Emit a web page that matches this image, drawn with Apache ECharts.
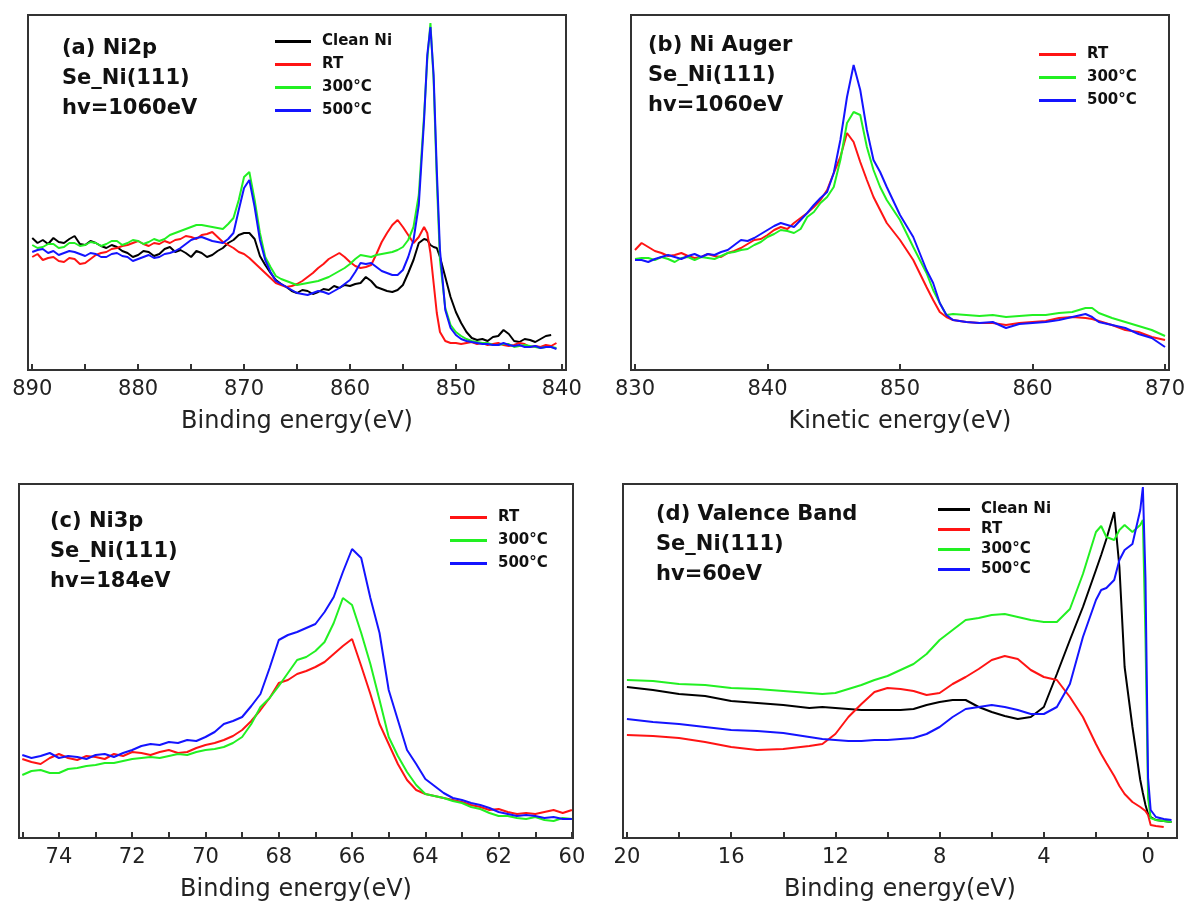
<!DOCTYPE html>
<html>
<head>
<meta charset="utf-8">
<script src="https://cdn.jsdelivr.net/npm/echarts@6/dist/echarts.min.js"></script>
<style>
  html, body { margin: 0; padding: 0; background: #fff; }
  #main { width: 1189px; height: 905px; }
</style>
</head>
<body>
<div id="main"></div>
<script>
// (a) Ni2p, hv=1060eV  (intensity in arb. units)
var eA = [890,889.5,889,888.5,888,887.5,887,886.5,886,885.5,885,884.5,884,883.5,883,882.5,882,881.5,881,880.5,880,
  879.5,879,878.5,878,877.5,877,876.5,876,875.5,875,874.5,874,873.5,873,872.5,872,871.5,871,870.5,870,
  869.5,869,868.5,868,867.5,867,866.5,866,865.5,865,864.5,864,863.5,863,862.5,862,861.5,861,860.5,860,
  859.5,859,858.5,858,857.5,857,856.5,856,855.5,855,854.5,854,
  853.5,853,852.7,852.4,852.1,851.8,851.5,
  851,850.5,850,849.5,849,848.5,848,847.5,847,846.5,846,845.5,845,844.5,844,843.5,843,842.5,842,841.5,841,840.5];
var aClean = [132,127,130,126,132,128,127,131,134,126,125,129,127,124,122,125,123,119,117,113,115,
  119,118,114,116,121,123,118,120,117,113,119,117,113,115,119,122,127,130,135,137,
  137,131,114,105,97,90,86,83,79,77,80,79,76,78,81,80,84,82,85,84,
  86,87,93,89,83,81,79,78,80,85,97,110,
  127,131,130,125,123,122,113,
  93,73,58,47,38,32,30,31,29,33,34,40,36,29,28,31,30,28,31,34,35,null];
var aRT = [113,116,110,112,113,109,108,112,111,106,107,111,115,117,118,121,122,124,125,127,129,
  126,124,127,126,129,127,130,131,134,133,131,135,136,138,133,128,125,122,118,116,
  112,107,102,97,92,87,85,83,84,86,89,93,97,102,106,111,114,117,113,108,
  104,102,103,105,116,128,137,145,150,143,135,127,
  133,143,137,117,87,57,38,
  29,27,27,26,27,28,26,27,25,26,27,25,24,25,27,26,23,24,23,25,24,27];
var a300 = [125,122,123,126,126,122,123,127,127,124,125,128,127,124,126,129,129,125,127,130,129,
  126,128,131,129,131,135,137,139,141,143,145,145,144,143,142,141,146,152,170,193,
  198,170,137,113,103,94,91,89,87,85,86,87,88,89,91,93,96,99,102,106,
  111,115,114,113,115,116,117,118,120,123,130,143,
  175,255,310,347,290,190,110,
  62,45,38,34,31,29,28,27,27,25,25,26,26,23,24,25,24,23,22,23,23,22];
var a500 = [118,120,121,117,119,115,117,119,118,116,114,117,116,113,113,116,117,114,113,109,111,
  113,115,112,113,116,117,119,122,126,130,132,133,131,129,128,127,131,137,160,182,
  190,163,130,110,98,89,86,83,80,77,76,75,77,79,78,76,79,82,86,90,
  98,107,106,107,103,99,97,95,95,100,113,130,
  165,250,315,343,295,200,120,
  60,42,35,31,29,28,27,26,26,25,25,27,25,24,25,23,23,24,22,23,23,21];
var ticksA = [840,845,850,855,860,865,870,875,880,885,890];
var labelsA = [840,850,860,870,880,890];

// (b) Ni Auger
var eB = [830,830.5,831,831.5,832,832.5,833,833.5,834,834.5,835,835.5,836,836.5,837,837.5,838,838.5,839,839.5,
  840,840.5,841,841.5,842,842.5,843,843.5,844,844.5,845,845.5,846,846.5,847,847.5,848,848.5,849,850,851,852,852.5,853,853.5,
  854,855,856,857,858,859,860,861,862,863,864,864.5,865,866,867,868,869,870];
var bRT = [120,127,123,119,117,114,115,117,114,112,113,116,114,113,117,119,122,126,130,131,
  135,140,143,141,147,152,157,163,170,180,197,213,237,228,208,190,173,160,147,130,110,83,70,58,53,
  50,48,47,47,45,47,48,49,52,53,52,51,49,45,40,38,33,30];
var b300 = [111,112,112,110,113,111,108,112,113,110,113,112,111,114,117,118,120,121,125,128,
  133,136,140,139,137,141,153,158,167,173,183,210,247,258,255,223,200,183,170,150,123,97,80,67,55,
  56,55,54,55,53,54,55,55,57,58,62,62,57,52,48,44,40,34];
var b500 = [110,110,108,111,113,115,113,111,114,116,113,116,115,118,120,125,130,129,132,136,
  140,144,147,145,143,150,157,165,172,178,197,230,273,305,280,240,210,198,183,155,133,100,87,67,55,
  50,48,47,48,42,46,47,48,50,53,56,53,48,45,42,36,32,23];
var ticksB = [830,840,850,860,870];
var labelsB = [830,840,850,860,870];

// (c) Ni3p, hv=184eV
var eC = [75,74.75,74.5,74.25,74,73.75,73.5,73.25,73,72.75,72.5,72.25,72,71.75,71.5,71.25,71,70.75,70.5,70.25,70,
  69.75,69.5,69.25,69,68.75,68.5,
  68.25,68,67.75,67.5,67.25,67,66.75,66.5,66.25,66,65.75,65.5,65.25,65,64.75,64.5,64.25,64,
  63.75,63.5,63.25,63,62.75,62.5,62.25,62,61.75,61.5,61.25,61,60.75,60.5,60.25,60];
var cRT = [79,76,74,80,84,80,78,82,81,79,84,82,86,85,83,86,88,85,86,90,93,95,98,102,108,117,128,
  140,155,158,164,167,171,176,184,192,199,172,144,114,94,74,58,48,44,
  42,40,38,36,33,31,28,29,26,24,25,24,26,28,25,28];
var c300 = [63,67,68,65,65,69,70,72,73,75,75,77,79,80,81,80,82,84,83,86,88,89,91,95,101,114,131,
  140,152,165,178,181,187,196,215,240,233,205,174,138,101,82,66,53,44,
  42,40,37,35,31,29,25,22,22,20,19,21,18,17,20,19];
var c500 = [83,80,82,85,80,82,81,79,83,84,81,85,88,92,94,93,96,95,98,97,101,106,114,117,121,132,144,
  170,198,203,206,210,214,226,241,266,289,280,240,205,148,118,88,74,59,
  52,45,40,38,35,33,30,26,24,22,23,22,20,21,19,19];
var ticksC = [60,61,62,63,64,65,66,67,68,69,70,71,72,73,74,75];
var labelsC = [60,62,64,66,68,70,72,74];

// (d) Valence band, hv=60eV
var eD = [20,19,18,17,16,15,14,13,12.5,12,11.5,11,10.5,10,9.5,9,8.5,8,7.5,7,6.5,6,5.5,5,
  4.5,4,3.5,3,2.5,2,1.8,1.6,1.3,1.1,0.9,0.6,0.3,0.2,0.1,0,-0.1,-0.3,-0.6,-0.9];
var dClean = [151,148,144,142,137,135,133,130,131,130,129,128,128,128,128,129,133,136,138,138,131,126,122,119,
  121,131,164,198,231,268,283,299,326,271,171,111,58,45,33,24,21,18,17,16];
var dRT = [103,102,100,96,91,88,89,92,94,104,121,134,146,150,149,147,143,145,154,161,169,178,182,179,
  168,161,158,141,121,94,84,75,62,52,44,36,31,29,27,23,13,12,11,null];
var d300 = [158,157,154,153,150,149,147,145,144,145,149,153,158,162,168,174,184,198,208,218,220,223,224,221,
  218,216,216,229,264,306,312,301,298,308,313,306,313,318,200,40,20,18,17,16];
var d500 = [119,116,114,111,108,107,105,101,99,98,97,97,98,98,99,100,104,111,121,129,131,133,131,128,
  124,124,131,154,201,238,248,250,258,278,288,294,328,351,260,60,28,21,19,18];
var ticksD = [0,2,4,6,8,10,12,14,16,18,20];
var labelsD = [0,4,8,12,16,20];

var FONT = 'DejaVu Sans';
var COL = { 'Clean Ni': '#000000', 'RT': '#ff1414', '300°C': '#22f022', '500°C': '#1414ff' };

function pairs(xs, ys) {
  return xs.map(function (x, i) { return [x, ys[i]]; });
}

function xAx(i, min, max, inverse, ticks, labels, name) {
  return {
    type: 'value', gridIndex: i, min: min, max: max, inverse: inverse,
    name: name, nameLocation: 'middle', nameGap: 40,
    nameTextStyle: { fontFamily: FONT, fontSize: 24, color: '#222' },
    axisLine: { show: true, onZero: false, lineStyle: { color: '#333', width: 2 } },
    axisTick: { show: true, inside: true, length: 6, customValues: ticks, lineStyle: { color: '#333', width: 2 } },
    axisLabel: { customValues: labels, fontFamily: FONT, fontSize: 21, color: '#222', margin: 9 },
    splitLine: { show: false }
  };
}

function line(name, i, xs, ys) {
  return {
    type: 'line', name: name, xAxisIndex: i, yAxisIndex: i,
    data: pairs(xs, ys), showSymbol: false, symbol: 'none',
    lineStyle: { width: 2, color: COL[name] }, itemStyle: { color: COL[name] },
    animation: false
  };
}

function legend(left, top, w, gap, size, names) {
  return {
    orient: 'vertical', left: left, top: top, padding: 0,
    itemWidth: w, itemHeight: 3, itemGap: gap, icon: 'rect',
    selectedMode: false, data: names,
    textStyle: { fontFamily: FONT, fontWeight: 'bold', fontSize: size, color: '#111', padding: [0, 0, 0, 6] }
  };
}

function label(text, left, top) {
  return {
    text: text, left: left, top: top, padding: 0,
    textStyle: { fontFamily: FONT, fontWeight: 'bold', fontSize: 21, lineHeight: 30, color: '#111' }
  };
}

var gridStyle = { show: true, borderColor: '#333', borderWidth: 2, backgroundColor: '#fff' };

var myChart = echarts.init(document.getElementById('main'), null, { renderer: 'canvas' });
var option = {
  backgroundColor: '#fff',
  animation: false,
  title: [
    label('(a) Ni2p\nSe_Ni(111)\nhv=1060eV', 62, 34),
    label('(b) Ni Auger\nSe_Ni(111)\nhv=1060eV', 648, 31),
    label('(c) Ni3p\nSe_Ni(111)\nhv=184eV', 50, 507),
    label('(d) Valence Band\nSe_Ni(111)\nhv=60eV', 656, 500)
  ],
  legend: [
    legend(275, 34, 36, 8, 15, ['Clean Ni', 'RT', '300°C', '500°C']),
    legend(1039, 47, 37, 8, 15, ['RT', '300°C', '500°C']),
    legend(450, 510, 37, 8, 15, ['RT', '300°C', '500°C']),
    legend(938, 502, 32, 5, 15, ['Clean Ni', 'RT', '300°C', '500°C'])
  ],
  grid: [
    Object.assign({ left: 28, top: 15, width: 538, height: 355 }, gridStyle),
    Object.assign({ left: 631, top: 15, width: 538, height: 355 }, gridStyle),
    Object.assign({ left: 19, top: 484, width: 554, height: 354 }, gridStyle),
    Object.assign({ left: 623, top: 484, width: 554, height: 354 }, gridStyle)
  ],
  xAxis: [
    xAx(0, 839.6, 890.4, true, ticksA, labelsA, 'Binding energy(eV)'),
    xAx(1, 829.7, 870.3, false, ticksB, labelsB, 'Kinetic energy(eV)'),
    xAx(2, 59.97, 75.09, true, ticksC, labelsC, 'Binding energy(eV)'),
    xAx(3, -1.11, 20.15, true, ticksD, labelsD, 'Binding energy(eV)')
  ],
  yAxis: [
    { type: 'value', gridIndex: 0, min: 0, max: 355, show: false },
    { type: 'value', gridIndex: 1, min: 0, max: 355, show: false },
    { type: 'value', gridIndex: 2, min: 0, max: 354, show: false },
    { type: 'value', gridIndex: 3, min: 0, max: 354, show: false }
  ],
  series: [
    line('Clean Ni', 0, eA, aClean),
    line('RT', 0, eA, aRT),
    line('300°C', 0, eA, a300),
    line('500°C', 0, eA, a500),
    line('RT', 1, eB, bRT),
    line('300°C', 1, eB, b300),
    line('500°C', 1, eB, b500),
    line('RT', 2, eC, cRT),
    line('300°C', 2, eC, c300),
    line('500°C', 2, eC, c500),
    line('Clean Ni', 3, eD, dClean),
    line('RT', 3, eD, dRT),
    line('300°C', 3, eD, d300),
    line('500°C', 3, eD, d500)
  ]
};
myChart.setOption(option);
</script>
</body>
</html>
